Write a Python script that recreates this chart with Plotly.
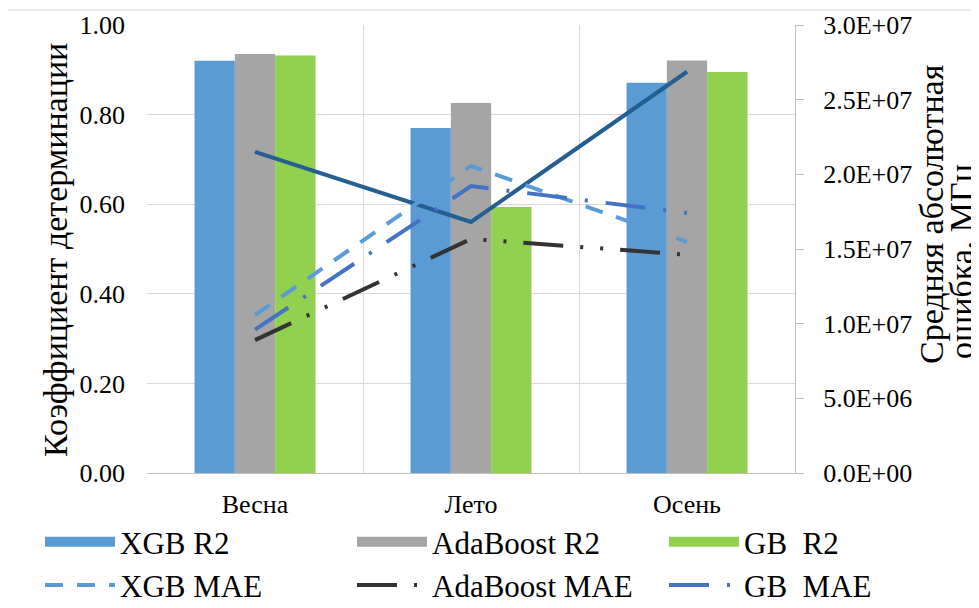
import plotly.graph_objects as go

# ---- data ----
seasons = ["Весна", "Лето", "Осень"]

xgb_r2 = [0.920, 0.770, 0.871]
ada_r2 = [0.935, 0.826, 0.921]
gb_r2 = [0.932, 0.594, 0.895]

xgb_mae = [1.058e7, 2.056e7, 1.547e7]
ada_mae = [8.9e6, 1.567e7, 1.462e7]
gb_mae = [9.6e6, 1.921e7, 1.741e7]
solid_mae = [2.15e7, 1.681e7, 2.687e7]

left_ticks = [0.0, 0.2, 0.4, 0.6, 0.8, 1.0]
right_ticks = [0.0, 5e6, 1e7, 1.5e7, 2e7, 2.5e7, 3e7]
right_ticktext = [f"{v:.1E}" for v in right_ticks]

left_title = "Коэффициент детерминации"
right_title_1 = "Средняя абсолютная"
right_title_2 = "ошибка, МГц"

# ---- styles ----
C_XGB = "#5B9BD5"
C_ADA = "#A5A5A5"
C_GB = "#92D050"
C_XGB_L = "#5B9BD5"
C_ADA_L = "#333333"
C_GB_L = "#4472C4"
C_SOLID = "#255E91"
FONT = "Liberation Serif"
GRID = "#D9D9D9"
AXL = "#BFBFBF"

fig = go.Figure()

bar_specs = [("XGB R2", xgb_r2, C_XGB, "legend"),
             ("AdaBoost R2", ada_r2, C_ADA, "legend2"),
             ("GB  R2", gb_r2, C_GB, "legend3")]
line_specs = [("XGB MAE", xgb_mae, C_XGB_L, "18px,14px", "legend"),
              ("AdaBoost MAE", ada_mae, C_ADA_L, "40px,17px,3px,17px,3px,17px", "legend2"),
              ("GB  MAE", gb_mae, C_GB_L, "40px,18px,3px,18px", "legend3")]

for name, vals, col, lg in bar_specs:
    fig.add_trace(go.Bar(x=seasons, y=vals, name=name, marker=dict(color=col, line=dict(width=0)),
                         showlegend=False, legendgroup=name, yaxis="y"))

# legend swatches for the bars (wide rectangles as in the original)
for name, vals, col, lg in bar_specs:
    fig.add_trace(go.Scatter(x=[None], y=[None], mode="lines", name=name, legendgroup=name,
                             line=dict(color=col, width=16), showlegend=True, legend=lg, yaxis="y"))

fig.add_trace(go.Scatter(x=seasons, y=solid_mae, mode="lines", name="MAE",
                         line=dict(color=C_SOLID, width=4), showlegend=False, yaxis="y2"))
for name, vals, col, dash, lg in line_specs:
    fig.add_trace(go.Scatter(x=seasons, y=vals, mode="lines", name=name, legend=lg,
                             line=dict(color=col, width=4, dash=dash), yaxis="y2"))

tf = dict(family=FONT, size=26, color="black")
legfont = dict(family=FONT, size=31, color="black")
titlefont = dict(family=FONT, size=34, color="black")

# the page body adds an 8px offset, so the figure is shifted back by 8px
OFF = 8
PL, PW, PT, PH = 147, 648, 25, 448


def lx(px):
    return (px - PL) / PW


def ly(py):
    return (PT + PH - py) / PH


leg_common = dict(orientation="v", xref="paper", yref="container", y=1 - 507 / 608,
                  xanchor="left", yanchor="top", itemwidth=70, font=legfont,
                  bgcolor="rgba(0,0,0,0)", traceorder="normal", tracegroupgap=0, borderwidth=0)

fig.update_layout(
    width=979, height=608, autosize=False,
    margin=dict(l=PL - OFF, r=979 - (PL - OFF) - PW, t=PT - OFF, b=608 - (PT - OFF) - PH,
                autoexpand=False),
    paper_bgcolor="white", plot_bgcolor="white",
    font=dict(family=FONT, color="black", size=26),
    barmode="group", bargap=0.44, bargroupgap=0,
    xaxis=dict(type="category", tickson="boundaries", showgrid=True, gridcolor=GRID, gridwidth=1,
               showline=True, linecolor=AXL, linewidth=1, ticks="", tickfont=tf,
               ticklabelstandoff=8, zeroline=False),
    yaxis=dict(range=[0, 1], tickvals=left_ticks, tickformat=".2f", showgrid=True, gridcolor=GRID,
               gridwidth=1, zeroline=False, showline=False, ticks="", tickfont=tf,
               ticklabelstandoff=21),
    yaxis2=dict(range=[0, 3e7], tickvals=right_ticks, ticktext=right_ticktext, overlaying="y",
                side="right", showgrid=False, zeroline=False, showline=True, linecolor=AXL,
                linewidth=1, ticks="outside", ticklen=8, tickcolor=AXL, tickfont=tf,
                ticklabelstandoff=14),
    legend=dict(x=lx(40), **leg_common),
    legend2=dict(x=lx(352), **leg_common),
    legend3=dict(x=lx(664), **leg_common),
    annotations=[
        dict(text=left_title, xref="paper", yref="paper", x=lx(56), y=ly(250),
             textangle=-90, showarrow=False, font=titlefont, xanchor="center", yanchor="middle"),
        dict(text=right_title_1, xref="paper", yref="paper", x=lx(931), y=ly(214),
             textangle=-90, showarrow=False, font=titlefont, xanchor="center", yanchor="middle"),
        dict(text=right_title_2, xref="paper", yref="paper", x=lx(961), y=ly(262),
             textangle=-90, showarrow=False, font=titlefont, xanchor="center", yanchor="middle"),
    ],
    shapes=[
        dict(type="rect", xref="paper", yref="paper", x0=lx(7.5), x1=1.6, y0=-0.6, y1=ly(10),
             line=dict(color=GRID, width=1), fillcolor="rgba(0,0,0,0)", layer="below"),
    ],
)

fig.write_html("out.html")
